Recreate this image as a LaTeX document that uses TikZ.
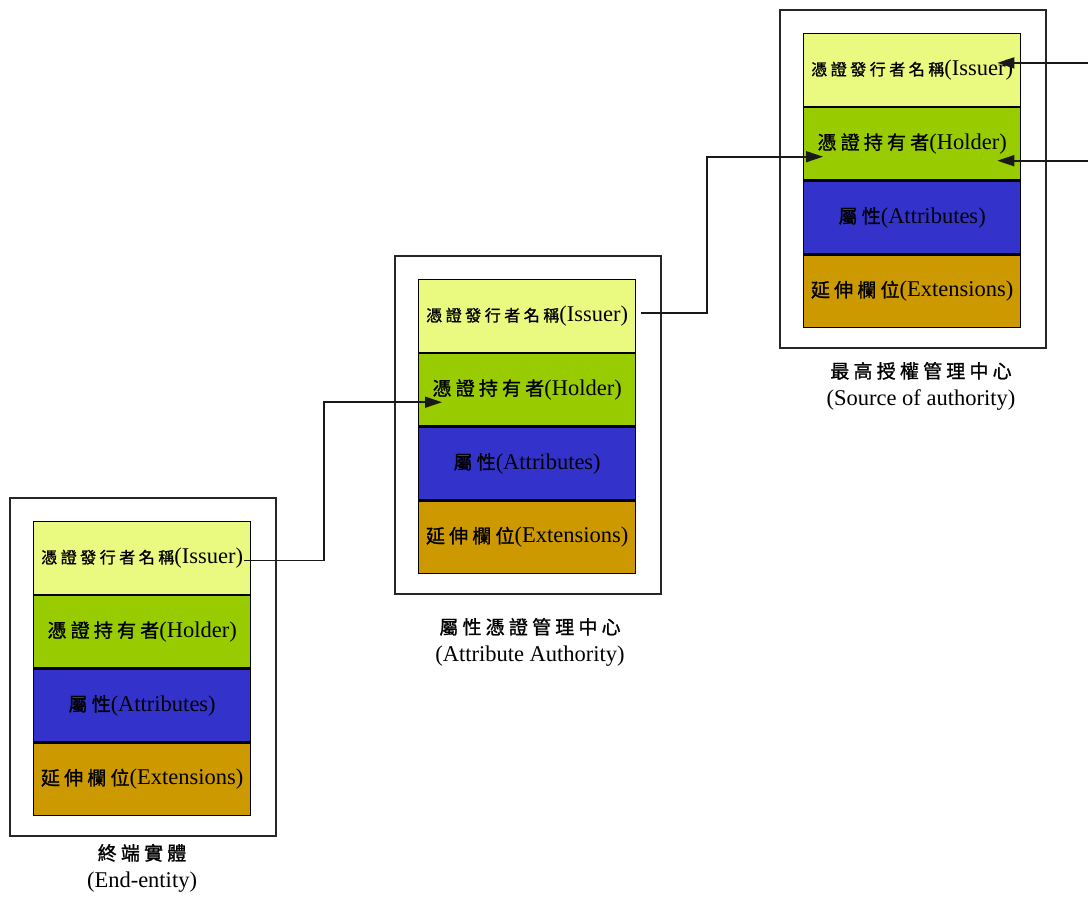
\documentclass[tikz,border=0pt]{standalone}
\usepackage{fontspec}
\setmainfont{Liberation Serif}
\newfontfamily\cjkfont{Noto Sans CJK TC}[LetterSpace=22,FakeBold=1.2]
\usetikzlibrary{arrows.meta}

\definecolor{issuerfill}{RGB}{234,250,128}
\definecolor{holderfill}{RGB}{153,204,0}
\definecolor{attrfill}{RGB}{51,51,204}
\definecolor{extfill}{RGB}{204,153,0}

\newcommand\zh[1]{{\cjkfont\fontsize{19}{24}\selectfont #1}}
\newcommand\zhs[1]{{\cjkfont\fontsize{16}{20}\selectfont #1}}

\tikzset{
  field/.style={draw=black, line width=1.3pt, minimum width=217pt,
    minimum height=72.5pt, anchor=north west, inner sep=0pt,
    font=\fontsize{22.5}{24}\selectfont},
  outerframe/.style={draw=black!85, line width=1.5pt, fill=white,
    minimum width=266pt, minimum height=338pt, anchor=north west},
  frameshadow/.style={fill=black!35},
  conn/.style={draw=black!90, line width=1.7pt},
  headtip/.style={-{Triangle[length=17pt,width=11pt]}},
  caption/.style={align=center, font=\fontsize{22.5}{27}\selectfont},
}

% one certificate: frame with four stacked fields
% #1 name prefix, #2 #3 top-left corner of the frame
\newcommand\certcolumn[3]{%
  \fill[frameshadow] ({#2+2},{#3+2}) rectangle ({#2+268},{#3+340});
  \node[outerframe] (#1-frame) at (#2,#3) {};
  \node[field, fill=issuerfill] (#1-iss) at ({#2+24},{#3+24})
    {\zhs{憑證發行者名稱}(Issuer)};
  \node[field, fill=holderfill] (#1-hold) at (#1-iss.south west)
    {\zh{憑證持有者}(Holder)};
  \node[field, fill=attrfill] (#1-attr) at (#1-hold.south west)
    {\zh{屬性}(Attributes)};
  \node[field, fill=extfill] (#1-ext) at (#1-attr.south west)
    {\zh{延伸欄位}(Extensions)};
}

\begin{document}
\begin{tikzpicture}[x=1pt, y=-1pt]
  \useasboundingbox[fill=white] (0,0) rectangle (1088,897);

  \certcolumn{L}{9}{497}
  \certcolumn{M}{394}{255}
  \certcolumn{R}{779}{9}

  \node[caption] (L-cap) at (142,868) {\zh{終端實體}\\(End-entity)};
  \node[caption] (M-cap) at (530,642) {\zh{屬性憑證管理中心}\\(Attribute Authority)};
  \node[caption] (R-cap) at (921,386) {\zh{最高授權管理中心}\\(Source of authority)};

  % issuer of one certificate is the holder of the next one up
  \draw[conn, headtip] ([shift={(-7,2.5)}]L-iss.east) -- ++(80,0)
    |- ([shift={(24,12.5)}]M-hold.west);
  \draw[conn, headtip] ([shift={(5,-3)}]M-iss.east) -- ++(66,0)
    |- ([shift={(20,13)}]R-hold.west);

  % links coming in from the right edge
  \path (R-iss.east) ++(68,-7) coordinate (inA);
  \path (R-hold.east) ++(68,17) coordinate (inB);
  \draw[conn, headtip] (inA) -- ([shift={(-24,-7)}]R-iss.east);
  \draw[conn, headtip] (inB) -- ([shift={(-24,17)}]R-hold.east);
\end{tikzpicture}
\end{document}
